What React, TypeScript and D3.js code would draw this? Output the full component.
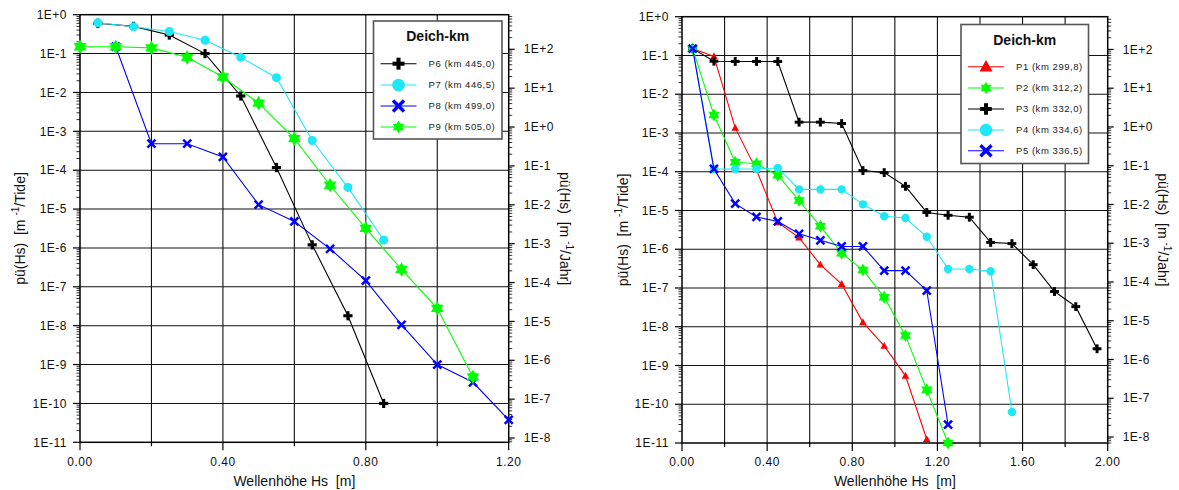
import React from "react";
import * as d3 from "d3";

// ---------- DATA ----------
// Left panel (Deich-km P6..P9)
const xP6 = [0.05, 0.15, 0.25, 0.35, 0.45, 0.55, 0.65, 0.75, 0.85];
const yP6 = [0.6, 0.5, 0.3, 0.1, 8.1e-3, 1.17e-4, 1.2e-6, 1.8e-8, 1e-10];
const xP7 = [0.05, 0.15, 0.25, 0.35, 0.45, 0.55, 0.65, 0.75, 0.85];
const yP7 = [0.62, 0.49, 0.37, 0.22, 0.08, 0.024, 5.8e-4, 3.6e-5, 1.6e-6];
const xP8 = [0.1, 0.2, 0.3, 0.4, 0.5, 0.6, 0.7, 0.8, 0.9, 1.0, 1.1, 1.2];
const yP8 = [0.15, 4.8e-4, 4.8e-4, 2.2e-4, 1.3e-5, 4.8e-6, 9.5e-7, 1.45e-7, 1.05e-8, 1.0e-9, 3.5e-10, 3.8e-11];
const xP9 = [0.0, 0.1, 0.2, 0.3, 0.4, 0.5, 0.6, 0.7, 0.8, 0.9, 1.0, 1.1];
const yP9 = [0.15, 0.15, 0.14, 0.08, 0.025, 5.3e-3, 6.5e-4, 4.1e-5, 3.2e-6, 2.8e-7, 2.8e-8, 4.8e-10];

// Right panel (Deich-km P1..P5)
const xP1 = [0.05, 0.15, 0.25, 0.35, 0.45, 0.55, 0.65, 0.75, 0.85, 0.95, 1.05, 1.15];
const yP1 = [0.15, 0.095, 1.35e-3, 1.1e-4, 4.9e-6, 2.0e-6, 4e-7, 1.26e-7, 1.3e-8, 3.2e-9, 5.4e-10, 1.25e-11];
const xP2 = [0.05, 0.15, 0.25, 0.35, 0.45, 0.55, 0.65, 0.75, 0.85, 0.95, 1.05, 1.15, 1.25];
const yP2 = [0.15, 2.9e-3, 1.75e-4, 1.6e-4, 8.1e-5, 1.8e-5, 3.9e-6, 7.9e-7, 2.9e-7, 5.8e-8, 5.9e-9, 2.35e-10, 1e-11];
const xP3 = [0.05, 0.15, 0.25, 0.35, 0.45, 0.55, 0.65, 0.75, 0.85, 0.95, 1.05, 1.15, 1.25, 1.35, 1.45, 1.55, 1.65, 1.75, 1.85, 1.95];
const yP3 = [0.15, 0.071, 0.07, 0.07, 0.07, 1.9e-3, 1.9e-3, 1.75e-3, 1.07e-4, 9.5e-5, 4.2e-5, 8.9e-6, 7.5e-6, 6.7e-6, 1.5e-6, 1.4e-6, 4e-7, 8.1e-8, 3.3e-8, 2.7e-9];
const xP4 = [0.05, 0.15, 0.25, 0.35, 0.45, 0.55, 0.65, 0.75, 0.85, 0.95, 1.05, 1.15, 1.25, 1.35, 1.45, 1.55];
const yP4 = [0.15, 1.18e-4, 1.18e-4, 1.18e-4, 1.25e-4, 3.5e-5, 3.5e-5, 3.5e-5, 1.44e-5, 7.1e-6, 6.4e-6, 2.1e-6, 3.1e-7, 3.1e-7, 2.7e-7, 6.3e-11];
const xP5 = [0.05, 0.15, 0.25, 0.35, 0.45, 0.55, 0.65, 0.75, 0.85, 0.95, 1.05, 1.15, 1.25];
const yP5 = [0.15, 1.18e-4, 1.5e-5, 6.8e-6, 5.2e-6, 2.5e-6, 1.7e-6, 1.18e-6, 1.18e-6, 2.8e-7, 2.8e-7, 8.5e-8, 3e-11];

const leftLabels = ["P6 (km 445,0)", "P7 (km 446,5)", "P8 (km 499,0)", "P9 (km 505,0)"];
const rightLabels = ["P1 (km 299,8)", "P2 (km 312,2)", "P3 (km 332,0)", "P4 (km 334,6)", "P5 (km 336,5)"];

const leftXTicks = [0, 0.4, 0.8, 1.2];
const rightXTicks = [0, 0.4, 0.8, 1.2, 1.6, 2.0];
const leftXGrid = [0.2, 0.4, 0.6, 0.8, 1.0];
const rightXGrid = [0.2, 0.4, 0.6, 0.8, 1.0, 1.2, 1.4, 1.6, 1.8];

const legendTitle = "Deich-km";
const xTitle = "Wellenhöhe Hs  [m]";

// ---------- RENDER HELPERS ----------
const FONT = "'Liberation Sans', Arial, Helvetica, sans-serif";

type MarkerType = "plus" | "circle" | "x" | "star" | "tri";

function hexagram(cx: number, cy: number, R: number) {
  const pts: string[] = [];
  const r = R / Math.sqrt(3);
  for (let k = 0; k < 12; k++) {
    const ang = ((-90 + k * 30) * Math.PI) / 180;
    const rad = k % 2 === 0 ? R : r;
    pts.push(`${cx + rad * Math.cos(ang)},${cy + rad * Math.sin(ang)}`);
  }
  return "M" + pts.join("L") + "Z";
}

function Marker({ type, x, y, s, color }: { type: MarkerType; x: number; y: number; s: number; color: string }) {
  switch (type) {
    case "plus":
      return (
        <g stroke={color} strokeWidth={s * 0.68}>
          <line x1={x - s} x2={x + s} y1={y} y2={y} />
          <line x1={x} x2={x} y1={y - s} y2={y + s} />
        </g>
      );
    case "circle":
      return <circle cx={x} cy={y} r={s} fill={color} />;
    case "x":
      return (
        <g stroke={color} strokeWidth={s * 0.62}>
          <line x1={x - s} x2={x + s} y1={y - s} y2={y + s} />
          <line x1={x - s} x2={x + s} y1={y + s} y2={y - s} />
        </g>
      );
    case "star":
      return <path d={hexagram(x, y, s)} fill={color} />;
    case "tri":
      return <path d={`M${x},${y - s * 1.05}L${x + s},${y + s * 0.75}L${x - s},${y + s * 0.75}Z`} fill={color} />;
  }
  return null;
}

interface Series {
  label: string;
  color: string;
  marker: MarkerType;
  xs: number[];
  ys: number[];
  size: number;
  legendSize: number;
}

interface PanelCfg {
  x0: number;
  x1: number;
  y0: number;
  y1: number;
  xmax: number;
  secK: number;
  xTicks: number[];
  xGrid: number[];
  legend: { x: number; y: number; w: number; h: number; titleY: number; rows: number[] };
  series: Series[];
  rightTitleX: number;
  leftTitleX: number;
}

const leftSeries: Series[] = [
  { label: leftLabels[0], color: "#000000", marker: "plus", xs: xP6, ys: yP6, size: 4.6, legendSize: 6 },
  { label: leftLabels[1], color: "#1ee8f5", marker: "circle", xs: xP7, ys: yP7, size: 4.5, legendSize: 6.3 },
  { label: leftLabels[2], color: "#0000ff", marker: "x", xs: xP8, ys: yP8, size: 4, legendSize: 5.5 },
  { label: leftLabels[3], color: "#00ff00", marker: "star", xs: xP9, ys: yP9, size: 7.3, legendSize: 6.6 },
];

const rightSeries: Series[] = [
  { label: rightLabels[0], color: "#ff0000", marker: "tri", xs: xP1, ys: yP1, size: 3.8, legendSize: 6.5 },
  { label: rightLabels[1], color: "#00ff00", marker: "star", xs: xP2, ys: yP2, size: 6.5, legendSize: 6.3 },
  { label: rightLabels[2], color: "#000000", marker: "plus", xs: xP3, ys: yP3, size: 4.4, legendSize: 5.8 },
  { label: rightLabels[3], color: "#1ee8f5", marker: "circle", xs: xP4, ys: yP4, size: 4.2, legendSize: 6.2 },
  { label: rightLabels[4], color: "#0000ff", marker: "x", xs: xP5, ys: yP5, size: 4, legendSize: 5.5 },
];

function fmtExp(e: number) {
  return e >= 0 ? `1E+${e}` : `1E${e}`;
}

function Panel({ cfg }: { cfg: PanelCfg }) {
  const { x0, x1, y0, y1 } = cfg;
  const x = d3.scaleLinear().domain([0, cfg.xmax]).range([x0, x1]);
  const y = d3.scaleLog().domain([1, 1e-11]).range([y0, y1]);
  const secTop = Math.pow(10, cfg.secK);
  const ySec = d3.scaleLog().domain([secTop, secTop * 1e-11]).range([y0, y1]);

  const line = d3
    .line<[number, number]>()
    .x((d) => x(d[0]))
    .y((d) => y(d[1]));

  const majors = d3.range(0, -12, -1);
  const minors: number[] = [];
  for (let e = -11; e < 0; e++) for (let m = 2; m <= 9; m++) minors.push(m * Math.pow(10, e));

  const secLo = Math.log10(secTop * 1e-11);
  const secHi = cfg.secK;
  const secMajors: number[] = [];
  for (let e = Math.ceil(secLo); e <= Math.floor(secHi); e++) secMajors.push(e);
  const secMinors: number[] = [];
  for (let e = Math.floor(secLo); e <= Math.floor(secHi); e++)
    for (let m = 2; m <= 9; m++) {
      const v = m * Math.pow(10, e);
      const lv = Math.log10(v);
      if (lv >= secLo && lv <= secHi) secMinors.push(v);
    }

  const gridColor = "#111";
  const cy = (y0 + y1) / 2;
  const cx = (x0 + x1) / 2;

  return (
    <g>
      {/* grid */}
      {majors.slice(1, -1).map((e) => (
        <line key={"hg" + e} x1={x0} x2={x1} y1={y(Math.pow(10, e))} y2={y(Math.pow(10, e))} stroke={gridColor} strokeWidth={1.1} />
      ))}
      {cfg.xGrid.map((v) => (
        <line key={"vg" + v} x1={x(v)} x2={x(v)} y1={y0} y2={y1} stroke={gridColor} strokeWidth={1.1} />
      ))}
      {/* frame */}
      <rect x={x0} y={y0} width={x1 - x0} height={y1 - y0} fill="none" stroke="#000" strokeWidth={1.5} />

      {/* left axis ticks */}
      {majors.map((e) => (
        <g key={"lt" + e}>
          <line x1={x0 - 7} x2={x0} y1={y(Math.pow(10, e))} y2={y(Math.pow(10, e))} stroke="#000" strokeWidth={1.2} />
          <text x={x0 - 13} y={y(Math.pow(10, e))} dy="0.35em" textAnchor="end" fontSize={12} letterSpacing={0.5} fontFamily={FONT} fill="#111">
            {fmtExp(e)}
          </text>
        </g>
      ))}
      {minors.map((v, i) => (
        <line key={"lm" + i} x1={x0 - 3.5} x2={x0} y1={y(v)} y2={y(v)} stroke="#000" strokeWidth={0.8} />
      ))}

      {/* secondary axis */}
      {secMajors.map((e) => (
        <g key={"rt" + e}>
          <line x1={x1} x2={x1 + 6} y1={ySec(Math.pow(10, e))} y2={ySec(Math.pow(10, e))} stroke="#000" strokeWidth={1.2} />
          <text x={x1 + 15} y={ySec(Math.pow(10, e))} dy="0.35em" textAnchor="start" fontSize={12} letterSpacing={0.5} fontFamily={FONT} fill="#111">
            {fmtExp(e)}
          </text>
        </g>
      ))}
      {secMinors.map((v, i) => (
        <line key={"rm" + i} x1={x1} x2={x1 + 3.5} y1={ySec(v)} y2={ySec(v)} stroke="#000" strokeWidth={0.8} />
      ))}

      {/* x axis ticks */}
      {cfg.xGrid.concat([0, cfg.xmax]).map((v) => {
        const major = cfg.xTicks.some((t) => Math.abs(t - v) < 1e-9);
        return <line key={"xt" + v} x1={x(v)} x2={x(v)} y1={y1} y2={y1 + (major ? 8 : 4)} stroke="#000" strokeWidth={1.2} />;
      })}
      {cfg.xTicks.map((v) => (
        <text key={"xl" + v} x={x(v)} y={466} textAnchor="middle" fontSize={12} letterSpacing={0.5} fontFamily={FONT} fill="#111">
          {d3.format(".2f")(v)}
        </text>
      ))}

      {/* axis titles */}
      <text x={cx} y={486} textAnchor="middle" fontSize={14} fontFamily={FONT} fill="#111" style={{ whiteSpace: "pre" }}>
        {xTitle}
      </text>
      <text
        transform={`translate(${cfg.leftTitleX},${cy}) rotate(-90)`}
        textAnchor="middle"
        fontSize={14}
        fontFamily={FONT}
        fill="#111"
        style={{ whiteSpace: "pre" }}
      >
        <tspan>pü(Hs)  [m </tspan>
        <tspan dy={-6} fontSize={10}>-1</tspan>
        <tspan dy={6}>/Tide]</tspan>
      </text>
      <text
        transform={`translate(${cfg.rightTitleX},${cy}) rotate(90)`}
        textAnchor="middle"
        fontSize={14}
        fontFamily={FONT}
        fill="#111"
        style={{ whiteSpace: "pre" }}
      >
        <tspan>pü(Hs)  [m </tspan>
        <tspan dy={-6} fontSize={10}>-1</tspan>
        <tspan dy={6}>/Jahr]</tspan>
      </text>

      {/* series */}
      {cfg.series.map((s, si) => {
        const pts = s.xs.map((xv, i) => [xv, s.ys[i]] as [number, number]);
        return (
          <g key={"s" + si}>
            <path d={line(pts) || ""} fill="none" stroke={s.color} strokeWidth={1.1} />
            {pts.map((p, i) => (
              <Marker key={i} type={s.marker} x={x(p[0])} y={y(p[1])} s={s.size} color={s.color} />
            ))}
          </g>
        );
      })}

      {/* legend */}
      <g>
        <rect x={cfg.legend.x} y={cfg.legend.y} width={cfg.legend.w} height={cfg.legend.h} fill="#fff" stroke="#555" strokeWidth={1.6} />
        <text
          x={cfg.legend.x + cfg.legend.w / 2}
          y={cfg.legend.titleY}
          dy="0.35em"
          textAnchor="middle"
          fontSize={14}
          fontWeight="bold"
          fontFamily={FONT}
          fill="#111"
        >
          {legendTitle}
        </text>
        {cfg.series.map((s, i) => {
          const ry = cfg.legend.rows[i];
          const lx = cfg.legend.x;
          return (
            <g key={"lg" + i}>
              <line x1={lx + 7} x2={lx + 43} y1={ry} y2={ry} stroke={s.color} strokeWidth={1.1} />
              <Marker type={s.marker} x={lx + 25} y={ry} s={s.legendSize} color={s.color} />
              <text x={lx + 55} y={ry} dy="0.35em" fontSize={9.5} letterSpacing={0.55} fontFamily={FONT} fill="#222">
                {s.label}
              </text>
            </g>
          );
        })}
      </g>
    </g>
  );
}

const leftCfg: PanelCfg = {
  x0: 80,
  x1: 508.7,
  y0: 14.7,
  y1: 442.3,
  xmax: 1.2,
  secK: 2.89,
  xTicks: leftXTicks,
  xGrid: leftXGrid,
  legend: { x: 373.5, y: 21, w: 128.5, h: 118, titleY: 36, rows: [63.7, 85, 106, 127] },
  series: leftSeries,
  leftTitleX: 25,
  rightTitleX: 560,
};

const rightCfg: PanelCfg = {
  x0: 682,
  x1: 1107.7,
  y0: 16.7,
  y1: 443,
  xmax: 2.0,
  secK: 2.845,
  xTicks: rightXTicks,
  xGrid: rightXGrid,
  legend: { x: 961, y: 24.5, w: 127.5, h: 139, titleY: 40, rows: [66.7, 88, 109, 130, 150.7] },
  series: rightSeries,
  leftTitleX: 628,
  rightTitleX: 1158,
};

export default function App() {
  return (
    <svg
      width={1179}
      height={490}
      viewBox="0 0 1179 490"
      style={{ position: "absolute", left: 0, top: 0, background: "#fff" }}
    >
      <rect x={0} y={0} width={1179} height={490} fill="#fff" />
      <Panel cfg={leftCfg} />
      <Panel cfg={rightCfg} />
    </svg>
  );
}
